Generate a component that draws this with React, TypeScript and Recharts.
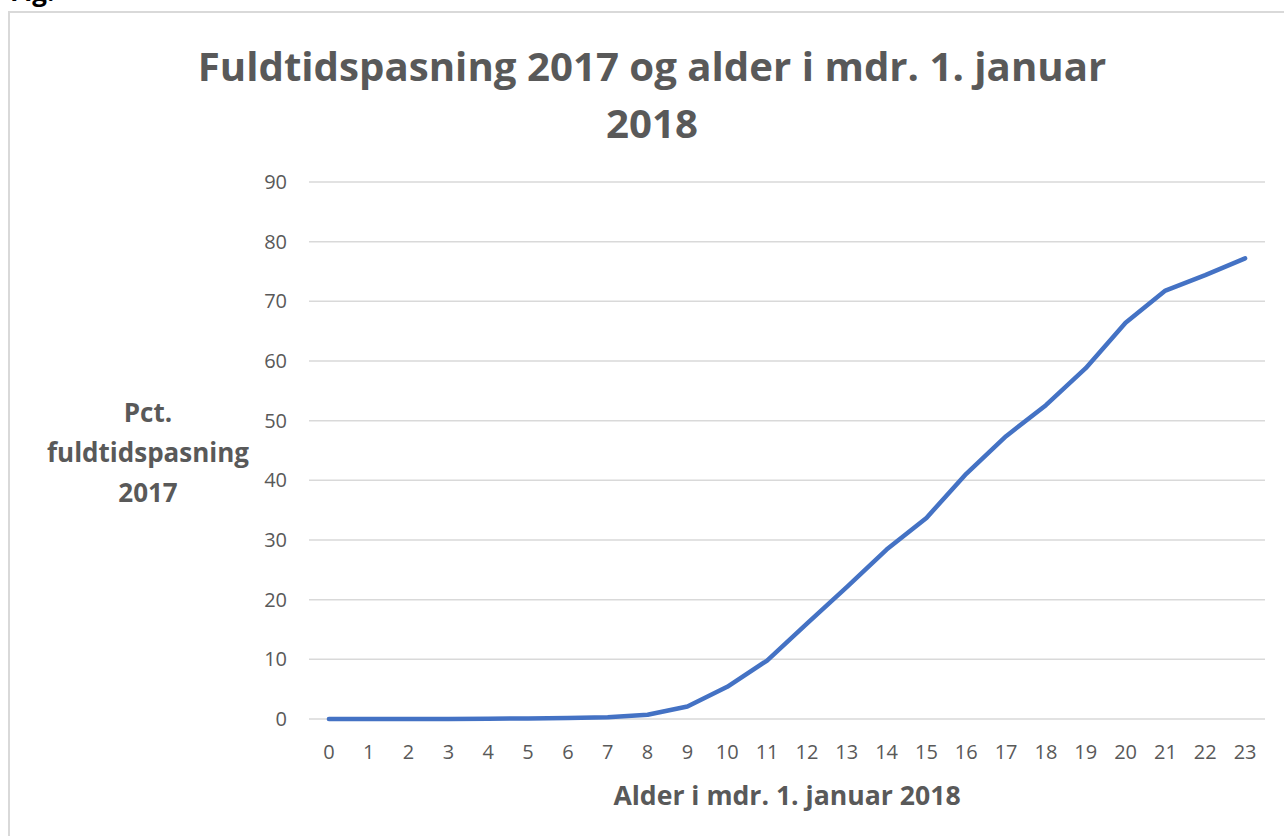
import { CartesianGrid, Line, LineChart, XAxis, YAxis } from "recharts";

const ageMonths = [0, 1, 2, 3, 4, 5, 6, 7, 8, 9, 10, 11, 12, 13, 14, 15, 16, 17, 18, 19, 20, 21, 22, 23];
const fullTimePct = [
  0, 0, 0, 0, 0.05, 0.1, 0.15, 0.3, 0.7, 2.1, 5.4, 9.8, 16.0, 22.1, 28.4, 33.7, 41.1, 47.4, 52.6, 58.8, 66.4, 71.8,
  74.4, 77.2,
];
const yTicks = [0, 10, 20, 30, 40, 50, 60, 70, 80, 90];

const titleLines = ["Fuldtidspasning 2017 og alder i mdr. 1. januar", "2018"];
const yLabelLines = ["Pct.", "fuldtidspasning", "2017"];
const xLabel = "Alder i mdr. 1. januar 2018";

const data = ageMonths.map((m, i) => ({ month: m, pct: fullTimePct[i] }));

const FONT = "'Open Sans', 'Noto Sans', sans-serif";
const GREY = "#595959";

export default function App() {
  return (
    <div style={{ position: "absolute", left: 0, top: 0, width: 1284, height: 836, background: "#fff", overflow: "hidden", fontFamily: FONT }}>
      <div
        style={{
          position: "absolute",
          left: 8,
          top: 11,
          width: 1300,
          height: 900,
          border: "2px solid #d9d9d9",
        }}
      />
      <LineChart
        width={1284}
        height={836}
        data={data}
        margin={{ top: 182, right: 19, left: 249, bottom: 77 }}
        style={{ position: "absolute", left: 0, top: 0 }}
      >
        <CartesianGrid vertical={false} stroke="#d9d9d9" strokeWidth={1.5} />
        <XAxis
          dataKey="month"
          type="number"
          domain={[-0.5, 23.5]}
          ticks={ageMonths}
          interval={0}
          axisLine={false}
          tickLine={false}
          tickMargin={20}
          height={40}
          tick={{ fontSize: 20, fill: GREY, fontFamily: FONT }}
        />
        <YAxis
          domain={[0, 90]}
          ticks={yTicks}
          interval={0}
          axisLine={false}
          tickLine={false}
          tickMargin={16}
          width={60}
          tick={{ fontSize: 20, fill: GREY, fontFamily: FONT }}
        />
        <Line
          type="linear"
          dataKey="pct"
          stroke="#4472C4"
          strokeWidth={4.5}
          strokeLinecap="round"
          strokeLinejoin="round"
          dot={false}
          isAnimationActive={false}
        />
      </LineChart>
      <svg width={1284} height={836} style={{ position: "absolute", left: 0, top: 0, pointerEvents: "none" }}>
        <text x={10} y={1} fontSize={26} fontWeight={700} fill="#000" fontFamily={FONT}>
          Fig.
        </text>
        {titleLines.map((t, i) => (
          <text
            key={t}
            x={652}
            y={65 + i * 57}
            textAnchor="middle"
            dominantBaseline="central"
            fontSize={40.2}
            fontWeight={700}
            fill={GREY}
            fontFamily={FONT}
          >
            {t}
          </text>
        ))}
        {yLabelLines.map((t, i) => (
          <text
            key={t}
            x={148}
            y={412 + i * 40}
            textAnchor="middle"
            dominantBaseline="central"
            fontSize={26}
            fontWeight={700}
            fill={GREY}
            fontFamily={FONT}
          >
            {t}
          </text>
        ))}
        <text
          x={787}
          y={795}
          textAnchor="middle"
          dominantBaseline="central"
          fontSize={26.6}
          fontWeight={700}
          fill={GREY}
          fontFamily={FONT}
        >
          {xLabel}
        </text>
      </svg>
    </div>
  );
}
